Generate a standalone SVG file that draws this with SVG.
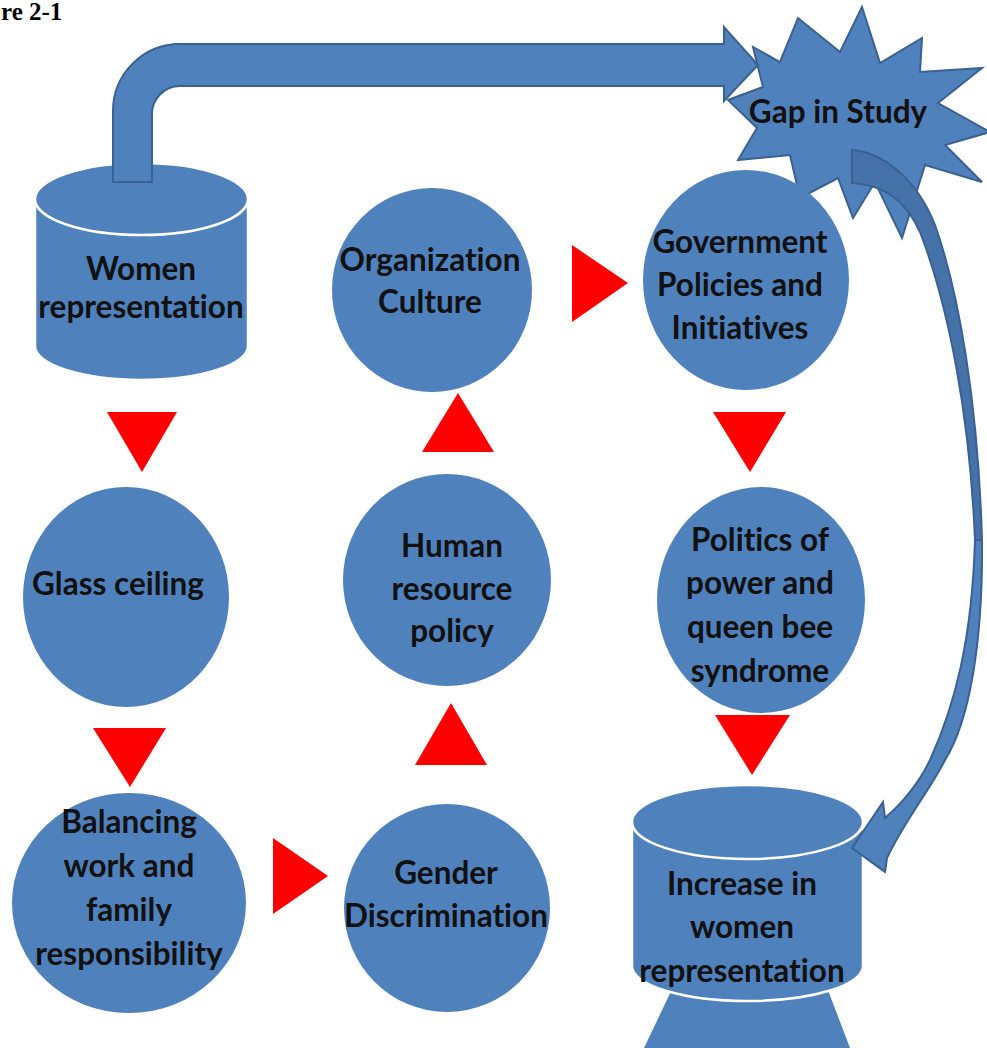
<svg xmlns="http://www.w3.org/2000/svg" width="987" height="1048" viewBox="0 0 987 1048">
<style>
.node{fill:#4F81BD;}
.cyl{fill:#4F81BD;stroke:#FFFFFF;stroke-width:2.5;}
.lbl{font-family:Lato,"Open Sans","Liberation Sans",sans-serif;font-weight:700;font-size:31.5px;fill:#111111;text-anchor:middle;font-variant-ligatures:none;font-feature-settings:"liga" 0,"clig" 0;}
.tri{fill:#FF0000;}
.arr{fill:#4F81BD;stroke:#3A6191;stroke-width:2;stroke-linejoin:miter;}
.arrdark{fill:#4672AA;stroke:#3A6191;stroke-width:2;}
.title{font-family:"Liberation Serif","Times New Roman",serif;font-weight:700;font-size:25px;fill:#000;}
</style>
<rect width="987" height="1048" fill="#FFFFFF"/>
<text class="title" x="1" y="20">re 2-1</text>

<g id="gap-in-study">
<polygon class="arr" points="862,7 880,63 922,38 920,72 982,68 938,103 990,132 945,145 982,182 925,165 902,238 875,182 853,218 838,178 800,198 790,155 738,160 757,128 728,100 763,87 753,47 780,62 798,18 840,52"/>
<text class="lbl" x="838" y="123">Gap in Study</text>
</g>

<g id="organization-culture">
<ellipse class="node" cx="432" cy="290" rx="100" ry="102"/>
<text class="lbl" x="430" y="271">Organization</text>
<text class="lbl" x="430" y="313">Culture</text>
</g>

<g id="government-policies">
<ellipse class="node" cx="746" cy="280" rx="103" ry="110"/>
<text class="lbl" x="740" y="253">Government</text>
<text class="lbl" x="740" y="296">Policies and</text>
<text class="lbl" x="740" y="339">Initiatives</text>
</g>

<g id="glass-ceiling">
<ellipse class="node" cx="126" cy="597" rx="103" ry="110"/>
<text class="lbl" x="118" y="595">Glass ceiling</text>
</g>

<g id="human-resource-policy">
<ellipse class="node" cx="447" cy="580" rx="104" ry="106"/>
<text class="lbl" x="452" y="557">Human</text>
<text class="lbl" x="452" y="600">resource</text>
<text class="lbl" x="452" y="642">policy</text>
</g>

<g id="politics-of-power">
<ellipse class="node" cx="761" cy="600" rx="104" ry="113"/>
<text class="lbl" x="760" y="551">Politics of</text>
<text class="lbl" x="760" y="594">power and</text>
<text class="lbl" x="760" y="638">queen bee</text>
<text class="lbl" x="760" y="682">syndrome</text>
</g>

<g id="balancing-work-family">
<ellipse class="node" cx="129" cy="903" rx="117" ry="110"/>
<text class="lbl" x="129" y="833">Balancing</text>
<text class="lbl" x="129" y="877">work and</text>
<text class="lbl" x="129" y="921">family</text>
<text class="lbl" x="129" y="965">responsibility</text>
</g>

<g id="gender-discrimination">
<ellipse class="node" cx="447" cy="908" rx="103" ry="104"/>
<text class="lbl" x="446" y="884">Gender</text>
<text class="lbl" x="446" y="927">Discrimination</text>
</g>

<g id="women-representation">
<path class="cyl" d="M35,199 L35,346 A106.5,34 0 0 0 248,346 L248,199 Z"/>
<ellipse class="cyl" cx="141.5" cy="199" rx="106.5" ry="36"/>
<text class="lbl" x="141" y="280">Women</text>
<text class="lbl" x="141" y="318">representation</text>
</g>

<g id="increase-women-representation">
<polygon class="node" points="674,985 826,985 850,1048 644,1048"/>
<path class="cyl" d="M632,822 L632,966 A115.5,35 0 0 0 863,966 L863,822 Z"/>
<ellipse class="cyl" cx="747.5" cy="822" rx="115.5" ry="37"/>
<text class="lbl" x="742" y="895">Increase in</text>
<text class="lbl" x="742" y="938">women</text>
<text class="lbl" x="742" y="982">representation</text>
</g>

<g id="connectors">
<path class="arr" d="M113,182 L113,111 A67,67 0 0 1 180,44 L724,44 L724,27 L758,65 L724,101 L724,86 L180,86 A28,28 0 0 0 152,114 L152,182 Z"/>
<path class="arrdark" d="M852,150 C880,152 915,175 935,225 C958,290 978,400 982,540 L975,540 C970,420 950,310 920,232 C905,200 885,185 852,183 Z"/>
<path class="arr" d="M982,540 C983,640 970,720 945,760 C930,790 905,820 887,858 L885,872 L852,848 L883,802 L885,818 C900,805 918,785 930,760 C955,705 972,640 975,540 Z"/>
<polygon class="tri" points="107,412 177,412 142,472"/>
<polygon class="tri" points="93,728 166,728 130,787"/>
<polygon class="tri" points="273,838 273,914 328,876"/>
<polygon class="tri" points="415,765 487,765 451,703"/>
<polygon class="tri" points="422,452 494,452 458,393"/>
<polygon class="tri" points="572,245 572,322 628,283"/>
<polygon class="tri" points="713,412 786,412 750,472"/>
<polygon class="tri" points="715,715 790,715 752,775"/>
</g>
</svg>
